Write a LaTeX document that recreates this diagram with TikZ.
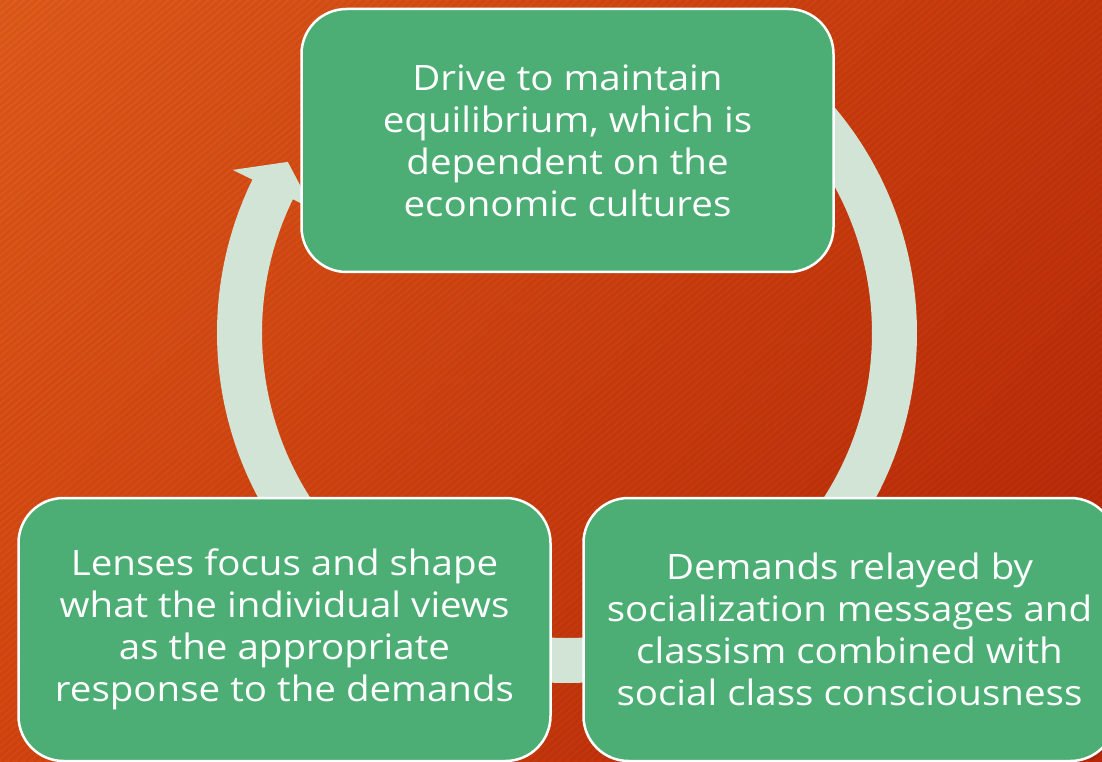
\documentclass[tikz,border=0pt]{standalone}
\usepackage{fontspec}
\setmainfont[FakeStretch=1.1]{Open Sans}
\usetikzlibrary{calc, shadings}

\definecolor{bgTL}{RGB}{226,92,28}
\definecolor{bgTR}{RGB}{200,56,12}
\definecolor{bgBL}{RGB}{214,70,16}
\definecolor{bgBR}{RGB}{182,38,8}
\definecolor{boxgreen}{RGB}{76,174,116}
\definecolor{ringfill}{RGB}{210,228,214}

\tikzset{
  cyclebox/.style={draw=white, line width=2.5pt, fill=boxgreen, rounded corners=45pt,
    minimum width=532pt, minimum height=263pt, align=center, text=white,
    font=\fontsize{35}{42}\selectfont},
  stripe/.style={line width=3pt, black, opacity=0.05}
}

% one curved arrow of the cycle, from angle #1 to the head at angle #2
\newcommand{\cyclearrow}[2]{%
  \fill[ringfill] ($(c)+(#1:305)$) arc[start angle=#1, end angle=#2, radius=305pt]
    -- ($(c)+(#2:283)$) -- ($(c)+({#2-5.5}:327.5)$) -- ($(c)+(#2:372)$)
    -- ($(c)+(#2:350)$) arc[start angle=#2, end angle=#1, radius=350pt] -- cycle;}

\begin{document}
\begin{tikzpicture}[x=1pt, y=1pt]
\useasboundingbox (0,0) rectangle (1102,761);
\shade[upper left=bgTL, upper right=bgTR, lower left=bgBL, lower right=bgBR]
  (0,0) rectangle (1102,761);
\begin{scope}
  \clip (0,0) rectangle (1102,761);
  \foreach \i in {0,...,250}
    \draw[stripe] ({\i*8-910},0) -- ++(907,761);
\end{scope}

\coordinate (c) at (567,428);
\cyclearrow{215}{154}
\cyclearrow{45}{-40}
\cyclearrow{-75}{-100}

\node[cyclebox] (drive) at (567.5,620.5)
  {Drive to maintain\\equilibrium, which is\\dependent on the\\economic cultures};
\node[cyclebox] (lenses) at (284.5,131.5)
  {Lenses focus and shape\\what the individual views\\as the appropriate\\response to the demands};
\begin{scope}
  \clip (0,0) rectangle (1102,761);
  \node[cyclebox] (demands) at (849.5,131.5)
    {Demands relayed by\\socialization messages and\\classism combined with\\social class consciousness};
\end{scope}
\end{tikzpicture}
\end{document}
